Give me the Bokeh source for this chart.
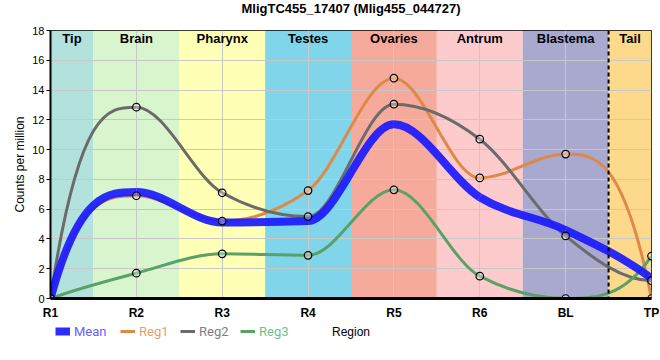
from bokeh.plotting import figure
from bokeh.layouts import column
from bokeh.models import Range1d, FixedTicker, Span, Legend, LegendItem
from bokeh.core.properties import value
from bokeh.embed import file_html
from bokeh.resources import INLINE

# ---------------- data ----------------
categories = ["R1", "R2", "R3", "R4", "R5", "R6", "BL", "TP"]
mean_vals = [0.0, 7.15, 5.1, 5.2, 11.7, 6.8, 4.6, 1.35]
reg1_vals = [0.0, 6.9, 5.2, 7.25, 14.8, 8.1, 9.7, 0.0]
reg2_vals = [0.0, 12.85, 7.1, 5.5, 13.05, 10.7, 4.2, 1.2]
reg3_vals = [0.0, 1.7, 3.0, 2.9, 7.3, 1.5, 0.0, 2.85]
regions = ["Tip", "Brain", "Pharynx", "Testes", "Ovaries", "Antrum", "Blastema", "Tail"]
region_colors = ["#b3e2dc", "#d9f5cd", "#ffffb5", "#80d5ea", "#f5aa9b", "#fdcbcc", "#a9a8cf", "#fdd98b"]
series_names = ["Mean", "Reg1", "Reg2", "Reg3"]
series_colors = ["#1a1aff", "#dd8a48", "#6b6b6b", "#58a268"]
label_colors = ["#6262ff", "#e8a070", "#7d7d8c", "#6cbf8c"]
title_text = "MligTC455_17407 (Mlig455_044727)"
x_title = "Region"
y_title = "Counts per million"
y_ticks = [0, 2, 4, 6, 8, 10, 12, 14, 16, 18]

FONT = "Liberation Sans"
W = 660
xs = list(range(len(categories)))


def _sign(v):
    return (v > 0) - (v < 0)


def _slopes(x, y):
    n = len(y)
    t = [0.0] * n
    for i in range(1, n - 1):
        h0 = x[i] - x[i - 1]
        h1 = x[i + 1] - x[i]
        s0 = (y[i] - y[i - 1]) / h0
        s1 = (y[i + 1] - y[i]) / h1
        pp = (s0 * h1 + s1 * h0) / (h0 + h1)
        t[i] = (_sign(s0) + _sign(s1)) * min(abs(s0), abs(s1), 0.5 * abs(pp))

    def end(d, tn):
        m = 3 * d - 2 * tn
        if _sign(m) != _sign(d):
            m = 0.0
        if abs(m) > 3 * abs(d):
            m = 3 * d
        return m

    t[0] = end((y[1] - y[0]) / (x[1] - x[0]), t[1])
    t[-1] = end((y[-1] - y[-2]) / (x[-1] - x[-2]), t[-2])
    return t


def segments(y):
    t = _slopes(xs, y)
    d = dict(x0=[], y0=[], x1=[], y1=[], cx0=[], cy0=[], cx1=[], cy1=[])
    for i in range(len(y) - 1):
        dx = (xs[i + 1] - xs[i]) / 3.0
        d["x0"].append(xs[i]); d["y0"].append(y[i])
        d["x1"].append(xs[i + 1]); d["y1"].append(y[i + 1])
        d["cx0"].append(xs[i] + dx); d["cy0"].append(y[i] + dx * t[i])
        d["cx1"].append(xs[i + 1] - dx); d["cy1"].append(y[i + 1] - dx * t[i + 1])
    return d


# ---------------- title strip ----------------
p0 = figure(width=W, height=18, output_backend="svg", toolbar_location=None,
            x_range=Range1d(0, W), y_range=Range1d(18, 0), x_axis_type=None, y_axis_type=None,
            min_border_left=0, min_border_right=0, min_border_top=0, min_border_bottom=0)
p0.outline_line_color = None
p0.grid.visible = False
p0.text(x=[W / 2], y=[8], text=[title_text], text_align="center", text_baseline="middle",
        text_font=value(FONT), text_font_size="13px", text_font_style="bold",
        text_color="black")

# ---------------- main plot ----------------
p = figure(width=W, height=304, output_backend="svg", toolbar_location=None,
           x_range=Range1d(0, len(categories) - 1), y_range=Range1d(0, 18),
           min_border_left=50, min_border_right=9, min_border_top=12, min_border_bottom=22)

# region bands
lefts = [max(i - 0.5, 0) for i in xs]
rights = [min(i + 0.5, xs[-1]) for i in xs]
centers = [(a + b) / 2 for a, b in zip(lefts, rights)]
p.quad(left=lefts, right=rights, bottom=0, top=18, fill_color=region_colors,
       line_color=None, level="image")
p.text(x=centers, y=[18] * len(regions), text=regions, text_align="center",
       text_baseline="top", y_offset=0, text_font=value(FONT),
       text_font_style="bold", text_font_size="13px", text_color="black")

p.add_layout(Span(location=6.5, dimension="height", line_color="black",
                  line_width=2, line_dash="4 3"))

# curves
all_vals = [mean_vals, reg1_vals, reg2_vals, reg3_vals]
for vals, col in zip(all_vals[1:], series_colors[1:]):
    p.bezier(line_color=col, line_width=3, **segments(vals))
p.bezier(line_color=series_colors[0], line_alpha=0.92, line_width=8, **segments(mean_vals))

for vals in all_vals[1:]:
    p.scatter(xs, vals, size=7.5, marker="circle", fill_color="white", fill_alpha=0.3,
              line_color="black", line_width=1.2)

# axes
p.xaxis.ticker = FixedTicker(ticks=xs)
p.xaxis.major_label_overrides = {i: c for i, c in zip(xs, categories)}
p.yaxis.ticker = FixedTicker(ticks=y_ticks)
p.yaxis.axis_label = y_title
for ax in (p.xaxis, p.yaxis):
    ax.axis_line_color = "black"
    ax.major_label_text_font = FONT
    ax.axis_label_text_font = FONT
    ax.axis_label_text_font_style = "normal"
    ax.axis_label_text_font_size = "12px"
    ax.axis_label_text_color = "black"
    ax.major_label_text_color = "black"
    ax.minor_tick_line_color = None
p.xaxis.axis_line_width = 3
p.yaxis.axis_line_width = 2
p.xaxis.major_tick_line_color = None
p.xaxis.major_label_text_font_size = "12px"
p.xaxis.major_label_text_font_style = "bold"
p.xaxis.major_label_standoff = 1
p.yaxis.major_tick_out = 4
p.yaxis.major_tick_in = 0
p.yaxis.major_tick_line_color = "black"
p.yaxis.major_label_text_font_size = "11px"
p.yaxis.major_label_standoff = 2
p.yaxis.axis_label_standoff = 2

p.grid.grid_line_color = "#c8c8c8"
p.grid.grid_line_width = 1
p.outline_line_color = "black"
p.outline_line_width = 1
p.background_fill_color = "white"

# ---------------- legend strip (legend + x axis title) ----------------
p2 = figure(width=W, height=38, output_backend="svg", toolbar_location=None,
            x_range=p.x_range, y_range=Range1d(38, 0), x_axis_type=None, y_axis_type=None,
            min_border_left=50, min_border_right=9, min_border_top=0, min_border_bottom=0)
p2.outline_line_color = None
p2.grid.visible = False
p2.text(x=[(xs[0] + xs[-1]) / 2], y=[9], text=[x_title], text_align="center",
        text_baseline="middle", text_font=value(FONT), text_font_size="12px",
        text_color="black")

legend_x = [5, 70, 130, 190]
for name, col, lcol, lx, lw in zip(series_names, series_colors, label_colors, legend_x, [8, 3, 3, 3]):
    # off-screen carrier renderer whose style the legend swatch shows
    dummy = p2.line(x=[xs[0], xs[1]], y=[-100, -100], line_color=col, line_width=lw,
                    line_alpha=0.92 if lw == 8 else 1.0)
    lg = Legend(items=[LegendItem(label=name, renderers=[dummy])], location=(lx, 21),
                orientation="horizontal", padding=0, margin=0, spacing=0,
                glyph_width=15, glyph_height=16, label_height=16, label_standoff=4,
                label_text_color=lcol, label_text_font="Roboto", label_text_font_size="13px",
                border_line_alpha=0, background_fill_alpha=0)
    p2.add_layout(lg)

layout = column(p0, p, p2, spacing=0)
open("out.html", "w").write(file_html(layout, INLINE))
